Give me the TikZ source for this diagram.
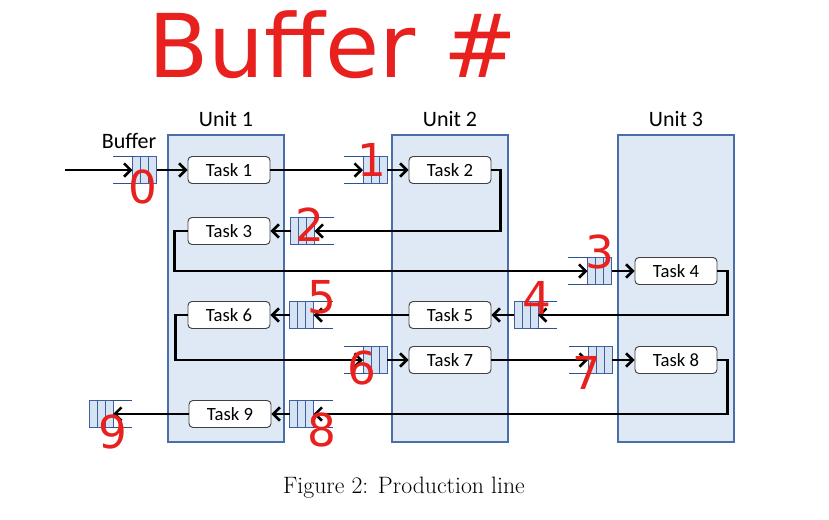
\documentclass[tikz,border=0pt]{standalone}
\usepackage{fontspec}
\newfontfamily\calibri{Carlito}
\newfontfamily\scrawl{DejaVu Sans}
\usepackage{tikz}
\usetikzlibrary{arrows.meta,positioning,calc}

\definecolor{unitfill}{RGB}{222,233,245}
\definecolor{unitline}{RGB}{74,110,168}
\definecolor{cellfill}{RGB}{214,227,242}
\definecolor{cellline}{RGB}{62,96,160}
\definecolor{mouthline}{RGB}{47,82,143}
\definecolor{inkred}{RGB}{232,33,31}

% queue icon, open side on the left (flow goes right)
\newcommand{\bufright}[3]{%
  \node[qcells] (#1) at (#2,#3) {};
  \draw[qcellline] ($(#1.north west)!1/3!(#1.north east)$) -- ($(#1.south west)!1/3!(#1.south east)$);
  \draw[qcellline] ($(#1.north west)!2/3!(#1.north east)$) -- ($(#1.south west)!2/3!(#1.south east)$);
  \draw[qmouth] ([xshift=2pt]#1.north west) -- ++(-22,0);
  \draw[qmouth] ([xshift=2pt]#1.south west) -- ++(-22,0);
}
% queue icon, open side on the right (flow goes left)
\newcommand{\bufleft}[3]{%
  \node[qcells] (#1) at (#2,#3) {};
  \draw[qcellline] ($(#1.north west)!1/3!(#1.north east)$) -- ($(#1.south west)!1/3!(#1.south east)$);
  \draw[qcellline] ($(#1.north west)!2/3!(#1.north east)$) -- ($(#1.south west)!2/3!(#1.south east)$);
  \draw[qmouth] ([xshift=-2pt]#1.north east) -- ++(22,0);
  \draw[qmouth] ([xshift=-2pt]#1.south east) -- ++(22,0);
}

\begin{document}
\begin{tikzpicture}[
    x=0.75pt, y=-0.75pt,
    unitbox/.style={
        rectangle, draw=unitline, fill=unitfill, line width=0.8pt,
        minimum width=87pt, minimum height=230.25pt, inner sep=0pt
    },
    unitlabel/.style={font=\calibri\fontsize{16.5}{19}\selectfont, inner sep=1pt},
    task/.style={
        rectangle, draw=black!75, fill=white, rounded corners=3pt,
        line width=0.7pt, minimum width=61.5pt, minimum height=20.25pt,
        inner sep=0pt, font=\calibri\fontsize{14}{16}\selectfont
    },
    qcells/.style={
        rectangle, draw=cellline, fill=cellfill, line width=0.6pt,
        minimum width=18pt, minimum height=20.25pt, inner sep=0pt, outer sep=0pt
    },
    qcellline/.style={draw=cellline, line width=0.6pt},
    qmouth/.style={draw=mouthline, line width=1.4pt},
    arrow/.style={-{Straight Barb[length=5pt,width=10pt]}, line width=1.9pt},
    ink/.style={text=inkred, font=\scrawl\fontsize{34}{34}\selectfont, inner sep=0pt},
]
  \useasboundingbox (0,0) rectangle (829,519);

  %--- Units ---------------------------------------------------
  \node (u1) [unitbox] at (226,288.5) {};
  \node (u2) [unitbox] at (450,288.5) {};
  \node (u3) [unitbox] at (676,288.5) {};
  \node (u1lab) [unitlabel, above=5pt of u1] {Unit 1};
  \node (u2lab) [unitlabel, above=5pt of u2] {Unit 2};
  \node (u3lab) [unitlabel, above=5pt of u3] {Unit 3};

  %--- Tasks ---------------------------------------------------
  \node (t1) [task] at (229,170) {Task 1};
  \node (t2) [task] at (450,170) {Task 2};
  \node (t3) [task] at (229,231) {Task 3};
  \node (t4) [task] at (676,271) {Task 4};
  \node (t5) [task] at (450,315) {Task 5};
  \node (t6) [task] at (229,315) {Task 6};
  \node (t7) [task] at (450,360) {Task 7};
  \node (t8) [task] at (676,360) {Task 8};
  \node (t9) [task] at (230,414) {Task 9};

  %--- Buffers -------------------------------------------------
  \bufright{b0}{144.5}{170}
  \bufright{b1}{375}{170}
  \bufleft{b2}{302.5}{231}
  \bufright{b3}{599.5}{271}
  \bufleft{b4}{526}{315}
  \bufleft{b5}{301.5}{315}
  \bufright{b6}{375}{360}
  \bufright{b7}{600}{360}
  \bufleft{b8}{301.5}{414}
  \bufleft{b9}{101}{414}
  \node (buflab) [unitlabel] at (129,141) {Buffer};

  %--- Arrows --------------------------------------------------
  \coordinate (src) at (65,170);
  \draw[arrow] (src) -- (b0.west);
  \draw[arrow] (b0.east) -- (t1.west);
  \draw[arrow] (t1.east) -- (b1.west);
  \draw[arrow] (b1.east) -- (t2.west);
  \draw[arrow] (t2.east) -- ++(9,0) |- (b2.east);
  \draw[arrow] (b2.west) -- (t3.east);
  \draw[arrow] (t3.west) -- ++(-13,0) |- (b3.west);
  \draw[arrow] (b3.east) -- (t4.west);
  \draw[arrow] (t4.east) -- ++(10,0) |- (b4.east);
  \draw[arrow] (b4.west) -- (t5.east);
  \draw[arrow] (t5.west) -- (b5.east);
  \draw[arrow] (b5.west) -- (t6.east);
  \draw[arrow] (t6.west) -- ++(-12,0) |- (b6.west);
  \draw[arrow] (b6.east) -- (t7.west);
  \draw[arrow] (t7.east) -- (b7.west);
  \draw[arrow] (b7.east) -- (t8.west);
  \draw[arrow] (t8.east) -- ++(10,0) |- (b8.east);
  \draw[arrow] (b8.west) -- (t9.east);
  \draw[arrow] (t9.west) -- (b9.east);

  %--- Caption -------------------------------------------------
  \node (caption) at (404,488) {\fontsize{17.8}{21}\selectfont Figure 2: Production line};

  %--- Red handwritten marks -----------------------------------
  \node (title) [ink, font=\scrawl\fontsize{66}{66}\selectfont] at (333,45) {Buffer \#};
  \node (n0) [ink] at (143,187) {0};
  \node (n1) [ink] at (372,160) {1};
  \node (n2) [ink] at (310,225) {2};
  \node (n3) [ink] at (600,252) {3};
  \node (n4) [ink] at (537,298) {4};
  \node (n5) [ink] at (322,297) {5};
  \node (n6) [ink] at (362,368) {6};
  \node (n7) [ink] at (587,373) {7};
  \node (n8) [ink] at (322,430) {8};
  \node (n9) [ink] at (113,432) {9};
\end{tikzpicture}
\end{document}
